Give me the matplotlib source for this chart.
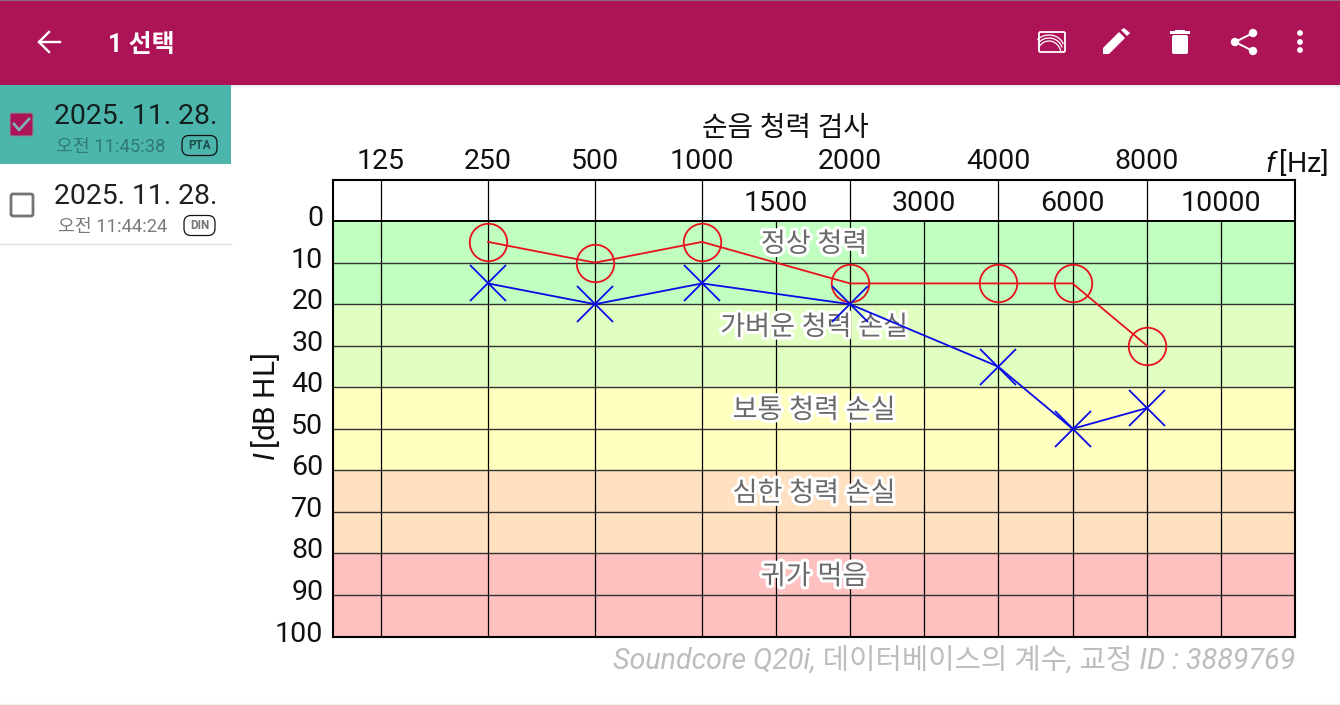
import matplotlib
matplotlib.use('Agg')
import matplotlib.pyplot as plt
import matplotlib.patches as patches
import matplotlib.patheffects as pe
import matplotlib.transforms as mtrans
import numpy as np

plt.rcParams['font.family'] = ['Roboto', 'Noto Sans CJK KR', 'DejaVu Sans']
plt.rcParams['mathtext.fontset'] = 'custom'
plt.rcParams['mathtext.it'] = 'Roboto:italic'
plt.rcParams['mathtext.rm'] = 'Roboto'

W, H = 1340, 705

# audiogram data
freqs = [250, 500, 1000, 2000, 4000, 6000, 8000]
right_ear = [5, 10, 5, 15, 15, 15, 30]
left_ear = [15, 20, 15, 20, 35, 50, 45]

top_freqs = [125, 250, 500, 1000, 2000, 4000, 8000]
inner_freqs = [1500, 3000, 6000, 10000]
levels = [0, 10, 20, 30, 40, 50, 60, 70, 80, 90, 100]

band_edges = [0, 20, 40, 60, 80, 100]
band_colors = ['#c0ffc0', '#e0ffc0', '#ffffc0', '#ffe0c0', '#ffc0c0']
band_labels = ['정상 청력', '가벼운 청력 손실', '보통 청력 손실', '심한 청력 손실', '귀가 먹음']

# the frequency axis is linear inside each octave, with uneven octave widths
scale_freq = [69, 125, 250, 500, 1000, 2000, 4000, 8000, 12000]
scale_pos = [0, 48, 155, 262, 369, 517, 665, 814, 962]


def forward(f):
    return np.interp(f, scale_freq, scale_pos)


def inverse(p):
    return np.interp(p, scale_pos, scale_freq)


fig = plt.figure(figsize=(W / 100, H / 100), dpi=100, facecolor='white')

# app chrome, in pixel coordinates
ui = fig.add_axes([0, 0, 1, 1])
ui.set_xlim(0, W)
ui.set_ylim(H, 0)
ui.axis('off')

BAR = '#ad1457'
ui.add_patch(patches.Rectangle((0, 0), W, 85, color=BAR, lw=0))
ui.add_patch(patches.Rectangle((0, 85), W, 2, color='#efefef', lw=0))
ui.add_patch(patches.Rectangle((0, 0), W, 1, color='#8a6a78', lw=0))
ui.add_patch(patches.Rectangle((0, 85), 231, 79, color='#4db6ac', lw=0))
ui.plot([0, 231], [244, 244], color='#e0e0e0', lw=1)
ui.plot([0, W], [703.5, 703.5], color='#f2f2f2', lw=1)

ui.plot([60, 39], [42, 42], color='white', lw=1.7)
ui.plot([49, 39, 49], [32, 42, 52], color='white', lw=1.7)
ui.text(108, 45, '1 선택', color='white', fontsize=18, fontweight='bold', va='center')

# toolbar icons
ui.add_patch(patches.FancyBboxPatch((1039, 32), 26, 20, boxstyle='round,pad=0,rounding_size=1.5',
                                    fc='none', ec='white', lw=1.3))
for dy in [0, 3, 6]:
    ui.add_patch(patches.Arc((1049, 48 + dy), 30 - dy, 26, theta1=215, theta2=345, color='white', lw=0.9))
ui.add_patch(patches.Polygon([(1103, 54), (1103, 48), (1119, 32), (1125, 38), (1109, 54)], color='white', lw=0))
ui.add_patch(patches.Polygon([(1121, 30), (1124, 28), (1130, 33), (1127, 36)], color='white', lw=0))
ui.add_patch(patches.Rectangle((1170, 31), 20, 3, color='white', lw=0))
ui.add_patch(patches.Rectangle((1175, 30), 10, 2, color='white', lw=0))
ui.add_patch(patches.FancyBboxPatch((1172, 35), 16, 19, boxstyle='round,pad=0,rounding_size=2', color='white', lw=0))
ui.plot([1253, 1235, 1253], [33, 42, 51], color='white', lw=1.4)
for cx, cy in [(1253, 33), (1235, 42), (1253, 51)]:
    ui.add_patch(patches.Circle((cx, cy), 4.2, color='white', lw=0))
for cy in [33, 42, 50]:
    ui.add_patch(patches.Circle((1300, cy), 2.9, color='white', lw=0))

# list rows
ui.add_patch(patches.FancyBboxPatch((10, 113), 23, 23, boxstyle='round,pad=0,rounding_size=2', fc=BAR, ec='#7c8f96', lw=0.8))
ui.plot([14, 19, 29], [124, 130, 119], color='#7fb0b4', lw=2)
ui.add_patch(patches.FancyBboxPatch((11, 194), 22, 22, boxstyle='round,pad=0,rounding_size=2', fc='none', ec='#757575', lw=2))

rows = [(116, 146, '11:45:38', 'PTA', 56, 182, 217, '#14201f', '#2f7a73', '#1d4f4a'),
        (196, 226, '11:44:24', 'DIN', 58, 184, 215, '#202020', '#7a7a7a', '#757575')]
for y1, y2, clock, tag, tx, bx0, bx1, c1, c2, c3 in rows:
    ui.text(54, y1, '2025. 11. 28.', color=c1, fontsize=20.4, va='center')
    ui.text(tx, y2 + 1, '오전 ' + clock, color=c2, fontsize=13.2, va='center')
    ui.add_patch(patches.FancyBboxPatch((bx0, y2 - 10.5), bx1 - bx0, 20, boxstyle='round,pad=0,rounding_size=7',
                                        fc='none', ec='#111111', lw=0.9))
    ui.text((bx0 + bx1) / 2, y2 - 0.5, tag, color=c3, fontsize=8.5, fontweight='bold', ha='center', va='center')

# chart
ax = fig.add_axes([333 / W, 1 - 636.5 / H, 962 / W, 456.5 / H])
ax.set_xscale('function', functions=(forward, inverse))
ax.set_xlim(69, 12000)
ax.set_ylim(100, -9.9)
ax.patch.set_alpha(0)

for i, c in enumerate(band_colors):
    ax.axhspan(band_edges[i], band_edges[i + 1], color=c, lw=0, zorder=0)
    ax.text(0.5, (band_edges[i] + band_edges[i + 1]) / 2 - 4.4, band_labels[i],
            transform=ax.get_yaxis_transform(), ha='center', va='center',
            color='#6a6a6a', fontsize=19.5, zorder=3,
            path_effects=[pe.withStroke(linewidth=4.5, foreground='white')])

ax.vlines(top_freqs, -9.9, 100, color='black', lw=0.9, zorder=1)
ax.vlines(inner_freqs, 0, 100, color='black', lw=0.9, zorder=1)
ax.hlines(levels[1:-1], 69, 12000, color='#333333', lw=1.0, zorder=1)
ax.hlines(0, 69, 12000, color='black', lw=1.4, zorder=2)

ax.plot(freqs, right_ear, color='#e8101c', lw=1.3, marker='o', ms=27, mfc='none', mew=1.3, zorder=4)
ax.plot(freqs, left_ear, color='#0a0ae6', lw=1.3, marker='x', ms=26, mew=1.3, zorder=5)

for f in inner_freqs:
    ax.text(f, -4.3, str(f), ha='center', va='center', fontsize=20.5, color='#111111')

ax.xaxis.tick_top()
ax.set_xticks(top_freqs)
ax.set_xticklabels([str(f) for f in top_freqs], fontsize=20.5, color='#111111')
ax.xaxis.set_minor_locator(matplotlib.ticker.NullLocator())
ax.tick_params(axis='x', length=0, pad=3.5)

ax.set_yticks(levels)
ax.set_yticklabels([str(v) for v in levels], fontsize=20.5, color='#111111')
ax.tick_params(axis='y', length=0, pad=7)
up = mtrans.ScaledTranslation(0, 5.5 / 100, fig.dpi_scale_trans)
for lab in ax.get_yticklabels():
    lab.set_transform(lab.get_transform() + up)

for s in ax.spines.values():
    s.set_linewidth(1.5)
    s.set_color('black')

ui.text(785, 128, '순음 청력 검사', ha='center', va='center', fontsize=20, color='#111111')
ui.text(1328, 163, r'$\mathit{f}\,$[Hz]', ha='right', va='center', fontsize=20.5, color='#111111')
ui.text(266, 407, r'$\mathit{I}\,$[dB HL]', ha='center', va='center', rotation=90, fontsize=21.5, color='#111111')
ui.text(1295, 661, 'Soundcore Q20i, 데이터베이스의 계수, 교정 ID : 3889769', ha='right', va='center',
        fontsize=20.6, style='italic', color='#bdbdbd')

fig.savefig('out.png', dpi=100)
